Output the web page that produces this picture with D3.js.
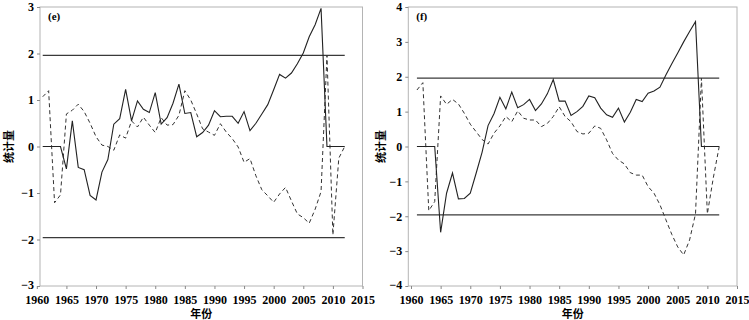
<!DOCTYPE html>
<html>
<head>
<meta charset="utf-8">
<script src="https://cdn.jsdelivr.net/npm/d3@7"></script>
<style>
    body { margin: 0; background: #fff; }
    svg { display: block; }
</style>
</head>
<body>
<svg id="chart" width="749" height="320"></svg>
<script>
/**
 * Data.
 */
const years = d3.range(1961, 2013);
const xTicks = [1960, 1965, 1970, 1975, 1980, 1985, 1990, 1995, 2000, 2005, 2010, 2015];
const yTicksE = [-3, -2, -1, 0, 1, 2, 3];
const yTicksF = [-4, -3, -2, -1, 0, 1, 2, 3, 4];
const critical = 1.96;

// Panel (e): UF solid, UB dashed
const ufE = [0, 0, 0, 0, -0.48, 0.55, -0.45, -0.5, -1.05, -1.15,
    -0.55, -0.28, 0.48, 0.6, 1.23, 0.55, 0.98, 0.8, 0.73, 1.16,
    0.48, 0.62, 0.93, 1.34, 0.71, 0.73, 0.21, 0.3, 0.46, 0.77,
    0.64, 0.65, 0.65, 0.5, 0.75, 0.34, 0.5, 0.7, 0.9, 1.22,
    1.55, 1.47, 1.58, 1.78, 2.01, 2.36, 2.62, 2.97, 0, 0,
    0, 0];
const ubE = [1.07, 1.2, -1.21, -1.04, 0.7, 0.78, 0.91, 0.75, 0.5, 0.21,
    0.03, 0, -0.08, 0.25, 0.18, 0.55, 0.42, 0.63, 0.46, 0.3,
    0.62, 0.46, 0.47, 0.67, 1.2, 1.0, 0.7, 0.38, 0.31, 0.24,
    0.49, 0.31, 0.17, -0.01, -0.34, -0.26, -0.63, -0.93, -1.06, -1.2,
    -1.02, -0.88, -1.17, -1.45, -1.53, -1.65, -1.35, -0.97, 1.96, -1.9,
    -0.25, 0];

// Panel (f): UF solid, UB dashed
const ufF = [0, 0, 0, 0, -2.46, -1.34, -0.76, -1.5, -1.49, -1.34,
    -0.76, -0.16, 0.6, 0.94, 1.41, 1.08, 1.56, 1.11, 1.2, 1.35,
    1.03, 1.22, 1.51, 1.92, 1.3, 1.3, 0.89, 1.0, 1.15, 1.45,
    1.4, 1.1, 0.91, 0.84, 1.1, 0.7, 0.98, 1.35, 1.29, 1.53,
    1.59, 1.7, 2.05, 2.37, 2.68, 3.0, 3.3, 3.58, 0, 0,
    0, 0];
const ubF = [1.62, 1.83, -1.84, -1.58, 1.45, 1.21, 1.35, 1.22, 0.95, 0.64,
    0.42, 0.2, 0.07, 0.38, 0.59, 0.86, 0.71, 1.02, 0.81, 0.76,
    0.76, 0.57, 0.66, 0.86, 1.14, 0.86, 0.71, 0.43, 0.36, 0.38,
    0.59, 0.52, 0.19, -0.2, -0.39, -0.5, -0.75, -0.82, -0.82, -1.15,
    -1.34, -1.67, -2.1, -2.52, -2.88, -3.11, -2.68, -1.93, 1.96, -1.93,
    -0.9, 0];

/**
 * Visual configs.
 */
const plotTop = 7, plotBottom = 286;
const serif = '"Liberation Serif", "DejaVu Serif", serif',
    cjk = '"Noto Sans CJK SC", "Noto Sans CJK JP", sans-serif';

const svg = d3.select('#chart');

drawPanel({ frame: [40, 362.5], xRange: [36.8, 362.5], titleX: 13, label: '(e)',
    uf: ufE, ub: ubE, yDomain: [-3, 3], yTicks: yTicksE });
drawPanel({ frame: [408.3, 737], xRange: [411, 737], titleX: 385, label: '(f)',
    uf: ufF, ub: ubF, yDomain: [-4, 4], yTicks: yTicksF });

/**
 * Draws one Mann-Kendall panel.
 */
function drawPanel(p) {
    const left = p.frame[0], right = p.frame[1];
    const xScale = d3.scaleLinear().domain([1960, 2015]).range(p.xRange),
        yScale = d3.scaleLinear().domain(p.yDomain).range([plotBottom, plotTop]);

    const g = svg.append('g');

    // Frame
    g.append('rect')
        .attr('x', left).attr('y', plotTop)
        .attr('width', right - left).attr('height', plotBottom - plotTop)
        .attr('fill', 'none').attr('stroke', '#b4b4b4').attr('stroke-width', 1);

    // Axes
    const yAxis = g.append('g')
        .attr('transform', 'translate(' + left + ',0)')
        .call(d3.axisLeft(yScale).tickValues(p.yTicks).tickSize(3).tickPadding(3).tickFormat(d3.format('d')));
    const xAxis = g.append('g')
        .attr('transform', 'translate(0,' + plotBottom + ')')
        .call(d3.axisBottom(xScale).tickValues(xTicks).tickSize(3).tickPadding(6).tickFormat(d3.format('d')));
    [yAxis, xAxis].forEach(a => {
        a.select('.domain').remove();
        a.selectAll('.tick line').attr('stroke', '#888');
        a.selectAll('.tick text')
            .attr('fill', '#000')
            .style('font-family', serif).style('font-weight', 'bold').style('font-size', '12px');
    });
    // Lift the lowest y label a little so it clears the year labels
    yAxis.selectAll('.tick text').filter(d => d === p.yDomain[0]).attr('dy', '0.2em');

    // Critical lines (±1.96)
    [critical, -critical].forEach(c => {
        g.append('path')
            .datum(years)
            .attr('fill', 'none').attr('stroke', '#3a3a3a').attr('stroke-width', 1.4)
            .attr('d', d3.line().x(d => xScale(d)).y(() => yScale(c)));
    });

    const line = values => d3.line().x((d, i) => xScale(years[i])).y(d => yScale(d))(values);

    // UB (dashed)
    g.append('path')
        .attr('d', line(p.ub))
        .attr('fill', 'none').attr('stroke', '#333').attr('stroke-width', 1)
        .attr('stroke-dasharray', '4,3');

    // UF (solid)
    g.append('path')
        .attr('d', line(p.uf))
        .attr('fill', 'none').attr('stroke', '#222').attr('stroke-width', 1.1);

    // Panel label
    g.append('text')
        .attr('x', left + 8).attr('y', plotTop + 13)
        .style('font-family', serif).style('font-weight', 'bold').style('font-size', '11px')
        .text(p.label);

    // Axis titles
    g.append('text')
        .attr('transform', 'translate(' + p.titleX + ',' + ((plotTop + plotBottom) / 2) + ') rotate(-90)')
        .attr('text-anchor', 'middle')
        .style('font-family', cjk).style('font-weight', 'bold').style('font-size', '11px')
        .text('统计量');
    g.append('text')
        .attr('x', (left + right) / 2).attr('y', 318)
        .attr('text-anchor', 'middle')
        .style('font-family', cjk).style('font-weight', 'bold').style('font-size', '11px')
        .text('年份');
}
</script>
</body>
</html>
